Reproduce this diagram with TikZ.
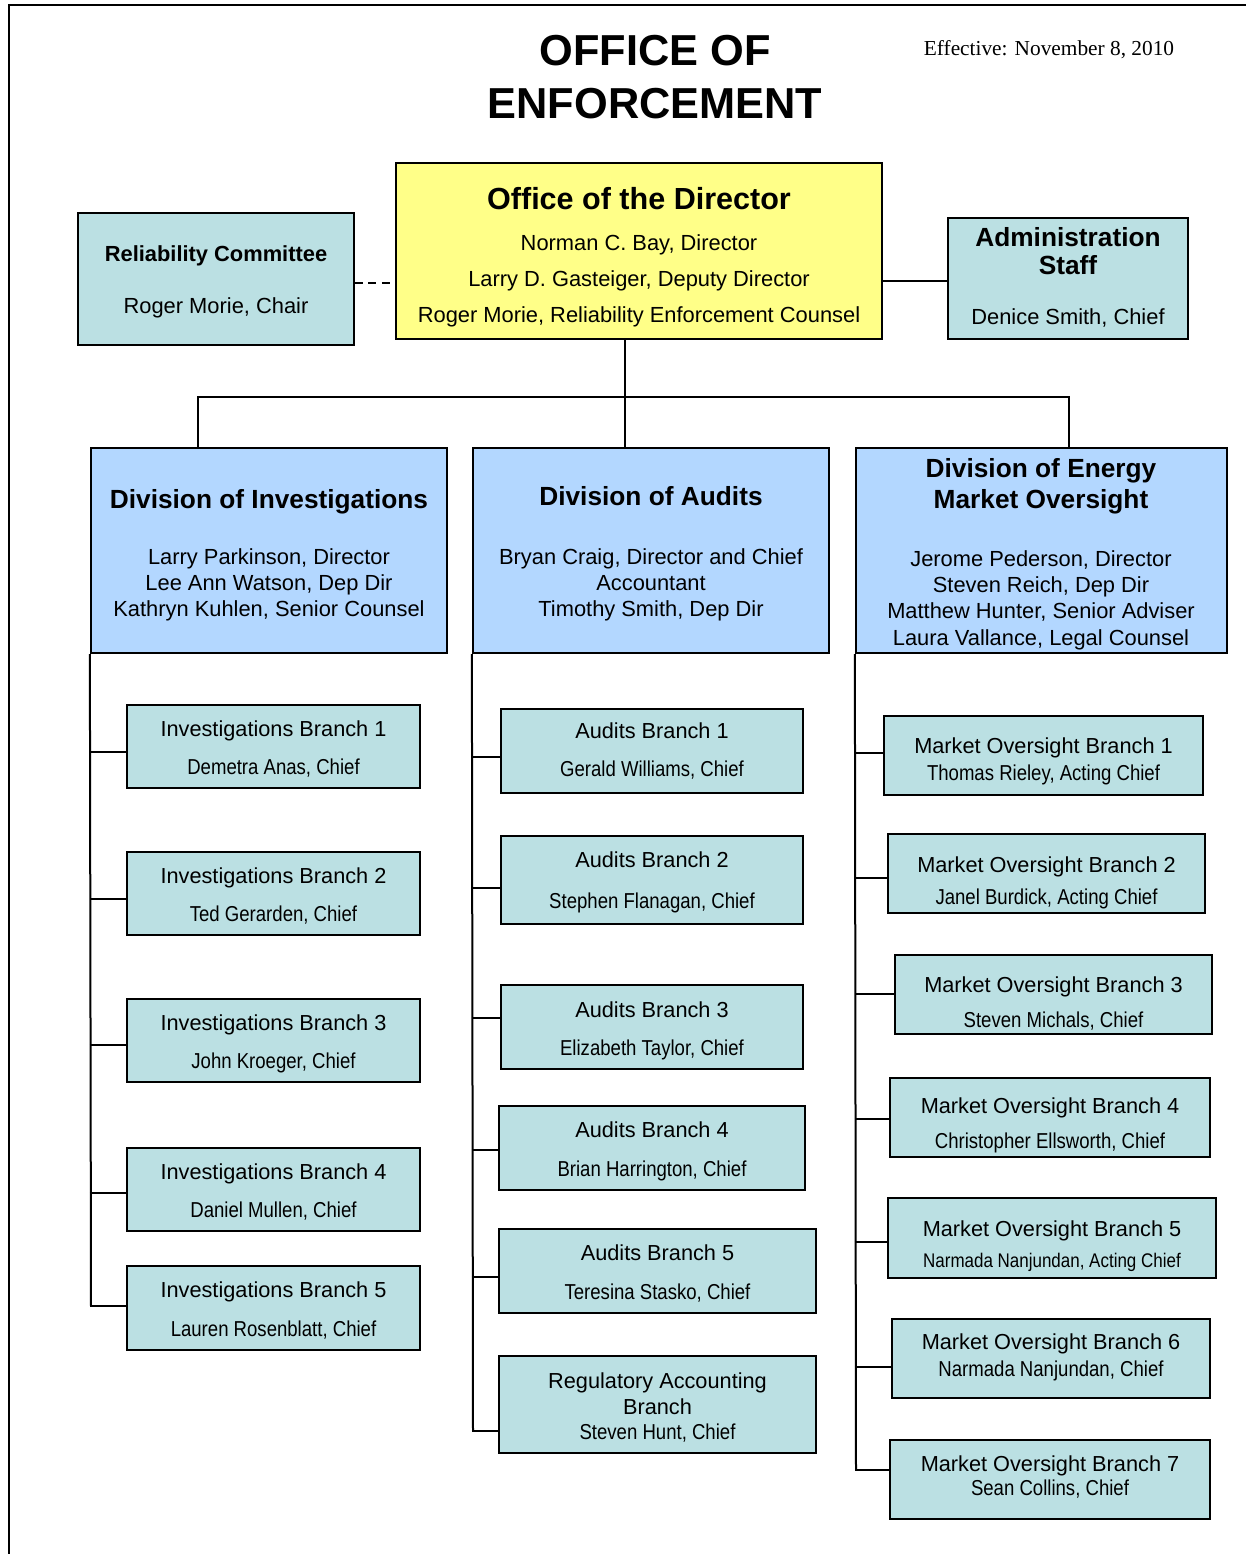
\documentclass[tikz,border=0pt]{standalone}
\usepackage{fontspec}
\setmainfont{Liberation Sans}
\newfontfamily\narf[FakeStretch=0.86]{Liberation Sans}
\newfontfamily\serf{Liberation Serif}
\usetikzlibrary{fit}
\definecolor{tealc}{HTML}{BBE0E3}
\definecolor{divc}{HTML}{B3D7FF}
\definecolor{dirc}{HTML}{FFFF88}
\tikzset{
  conn/.style={line width=1.5pt},
  boxbase/.style={draw, line width=1.7pt, inner sep=0pt},
  brbox/.style={boxbase, fill=tealc},
  divbox/.style={boxbase, fill=divc},
  dirbox/.style={boxbase, fill=dirc},
  txt/.style={inner sep=0pt, text depth=0pt},
  brt/.style={txt, text height=11.7pt, font=\fontsize{16.3}{19}\selectfont},
  brn/.style={txt, text height=11.7pt, font=\narf\fontsize{16.2}{19}\selectfont},
  divt/.style={txt, text height=14.1pt, font=\bfseries\fontsize{19.7}{23}\selectfont},
  divn/.style={txt, text height=11.8pt, font=\fontsize{16.4}{19}\selectfont},
}
% name, x1, y1, x2, y2, title, ytitle, chief, ychief
\newcommand\brx[9]{%
  \node[brbox, fit={(#2,#3) (#4,#5)}] (#1) {};
  \node[brt] (#1a) at ({(#2+#4)/2},#7) {#6};
  \node[brn] (#1b) at ({(#2+#4)/2},#9) {#8};
}
\begin{document}
\begin{tikzpicture}[x=0.75pt,y=-0.75pt]
\useasboundingbox (0,0) rectangle (1246,1554);
\draw[line width=1.5pt] (9,1554) -- (9,5) -- (1246,5);

% title
\node[txt, text height=23.3pt, font=\bfseries\fontsize{32.5}{36}\selectfont] (title1) at (655,50) {OFFICE OF};
\node[txt, text height=23.3pt, font=\bfseries\fontsize{32.5}{36}\selectfont] (title2) at (655,103) {ENFORCEMENT};
\node[txt, text height=10.6pt, font=\serf\fontsize{16}{19}\selectfont] (eff) at (1049,48) {Effective: November 8, 2010};

% director
\node[dirbox, fit={(396,163) (882,339)}] (dir) {};
\node[txt, text height=16.4pt, font=\bfseries\fontsize{22.9}{26}\selectfont] (dirt) at (639,199) {Office of the Director};
\node[divn] (dir1) at (639,243) {Norman C. Bay, Director};
\node[divn] (dir2) at (639,279) {Larry D. Gasteiger, Deputy Director};
\node[divn] (dir3) at (639,315) {Roger Morie, Reliability Enforcement Counsel};

% reliability committee
\node[brbox, fit={(78,213) (354,345)}] (rel) {};
\node[txt, text height=11.8pt, font=\bfseries\fontsize{16.4}{19}\selectfont] (relt) at (216,254) {Reliability Committee};
\node[divn] (rel1) at (216,306) {Roger Morie, Chair};

% administration staff
\node[brbox, fit={(948,218) (1188,339)}] (adm) {};
\node[divt] (admt1) at (1068,237) {Administration};
\node[divt] (admt2) at (1068,265) {Staff};
\node[divn] (adm1) at (1068,317) {Denice Smith, Chief};

% divisions
\node[divbox, fit={(91,448) (447,653)}] (divI) {};
\node[divt] (divIt) at (269,499) {Division of Investigations};
\node[divn] (divI1) at (269,557) {Larry Parkinson, Director};
\node[divn] (divI2) at (269,583) {Lee Ann Watson, Dep Dir};
\node[divn] (divI3) at (269,609) {Kathryn Kuhlen, Senior Counsel};

\node[divbox, fit={(473,448) (829,653)}] (divA) {};
\node[divt] (divAt) at (651,496) {Division of Audits};
\node[divn] (divA1) at (651,557) {Bryan Craig, Director and Chief};
\node[divn] (divA2) at (651,583) {Accountant};
\node[divn] (divA3) at (651,609) {Timothy Smith, Dep Dir};

\node[divbox, fit={(856,448) (1227,653)}] (divE) {};
\node[divt] (divEt1) at (1041,468) {Division of Energy};
\node[divt] (divEt2) at (1041,499) {Market Oversight};
\node[divn] (divE1) at (1041,559) {Jerome Pederson, Director};
\node[divn] (divE2) at (1041,585) {Steven Reich, Dep Dir};
\node[divn] (divE3) at (1041,611) {Matthew Hunter, Senior Adviser};
\node[divn] (divE4) at (1041,638) {Laura Vallance, Legal Counsel};

% investigations branches
\brx{ib1}{127}{705}{420}{788}{Investigations Branch 1}{729}{Demetra Anas, Chief}{767}
\brx{ib2}{127}{852}{420}{935}{Investigations Branch 2}{876}{Ted Gerarden, Chief}{914}
\brx{ib3}{127}{999}{420}{1082}{Investigations Branch 3}{1023}{John Kroeger, Chief}{1061}
\brx{ib4}{127}{1148}{420}{1231}{Investigations Branch 4}{1172}{Daniel Mullen, Chief}{1210}
\brx{ib5}{127}{1266}{420}{1350}{Investigations Branch 5}{1290}{Lauren Rosenblatt, Chief}{1329}

% audits branches
\brx{ab1}{501}{709}{803}{793}{Audits Branch 1}{731}{Gerald Williams, Chief}{769}
\brx{ab2}{501}{836}{803}{924}{Audits Branch 2}{860}{Stephen Flanagan, Chief}{901}
\brx{ab3}{501}{985}{803}{1069}{Audits Branch 3}{1010}{Elizabeth Taylor, Chief}{1048}
\brx{ab4}{499}{1106}{805}{1190}{Audits Branch 4}{1130}{Brian Harrington, Chief}{1169}
\brx{ab5}{499}{1229}{816}{1313}{Audits Branch 5}{1253}{Teresina Stasko, Chief}{1292}
\node[brbox, fit={(499,1356) (816,1453)}] (ra) {};
\node[brt] (raa) at (657.5,1381) {Regulatory Accounting};
\node[brt] (rab) at (657.5,1407) {Branch};
\node[brn] (rac) at (657.5,1432) {Steven Hunt, Chief};

% market oversight branches
\brx{mo1}{884}{716}{1203}{795}{Market Oversight Branch 1}{746}{Thomas Rieley, Acting Chief}{773}
\brx{mo2}{888}{834}{1205}{913}{Market Oversight Branch 2}{865}{Janel Burdick, Acting Chief}{897}
\brx{mo3}{895}{955}{1212}{1034}{Market Oversight Branch 3}{985}{Steven Michals, Chief}{1020}
\brx{mo4}{890}{1078}{1210}{1157}{Market Oversight Branch 4}{1106}{Christopher Ellsworth, Chief}{1141}
\node[brbox, fit={(888,1198) (1216,1278)}] (mo5) {};
\node[brt] (mo5a) at (1052,1229) {Market Oversight Branch 5};
\node[brn, text height=10.7pt, font=\narf\fontsize{14.8}{17}\selectfont] (mo5b) at (1052,1260) {Narmada Nanjundan, Acting Chief};
\brx{mo6}{892}{1319}{1210}{1398}{Market Oversight Branch 6}{1342}{Narmada Nanjundan, Chief}{1369}
\brx{mo7}{890}{1440}{1210}{1519}{Market Oversight Branch 7}{1464}{Sean Collins, Chief}{1488}

% top connectors
\coordinate (dsh) at (375,283);
\coordinate (adc) at (915,281);
\draw[conn, line width=1.2pt, dash pattern=on 6pt off 4pt] (rel.east |- dsh) -- (dir.west |- dsh);
\draw[conn] (dir.east |- adc) -- (adm.west |- adc);
\coordinate (hub) at (625,397);
\coordinate (hl) at (198,397);
\coordinate (hr) at (1069,397);
\draw[conn] (dir.south -| hub) -- (hub);
\draw[conn] (divI.north -| hl) -- (hl) -- (hr) -- (divE.north -| hr);
\draw[conn] (hub) -- (divA.north -| hub);

% investigations trunk
\foreach \n/\y in {ib1/752, ib2/899, ib3/1045, ib4/1193, ib5/1306}
  \draw[conn] (divI.south west |- {0,\y}) -- (\n.west |- {0,\y});
\coordinate (iend) at (91,1306);
\draw[conn] (divI.south west) -- (iend);

% audits trunk
\foreach \n/\y in {ab1/757, ab2/888, ab3/1018, ab4/1150, ab5/1277, ra/1431}
  \draw[conn] (divA.south west |- {0,\y}) -- (\n.west |- {0,\y});
\coordinate (aend) at (473,1431);
\draw[conn] (divA.south west) -- (aend);

% energy trunk
\foreach \n/\y in {mo1/753, mo2/878, mo3/994, mo4/1119, mo5/1242, mo6/1367, mo7/1470}
  \draw[conn] (divE.south west |- {0,\y}) -- (\n.west |- {0,\y});
\coordinate (eend) at (856,1470);
\draw[conn] (divE.south west) -- (eend);
\end{tikzpicture}
\end{document}
